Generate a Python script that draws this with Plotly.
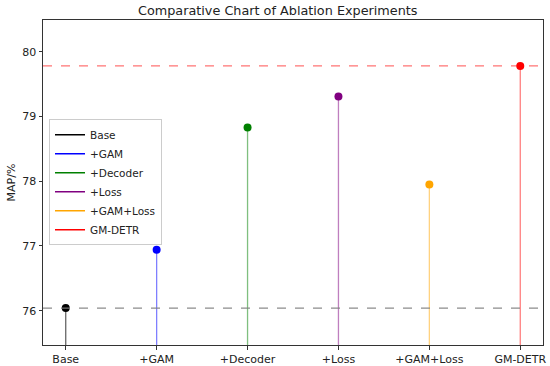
import plotly.graph_objects as go

categories = ["Base", "+GAM", "+Decoder", "+Loss", "+GAM+Loss", "GM-DETR"]
values = [76.04, 76.94, 78.83, 79.31, 77.95, 79.78]
colors = ["black", "blue", "green", "purple", "orange", "red"]
stem_colors = ["rgba(0,0,0,0.6)", "rgba(0,0,255,0.5)", "rgba(0,128,0,0.5)",
               "rgba(128,0,128,0.5)", "rgba(255,165,0,0.5)", "rgba(255,0,0,0.5)"]
base_line = 76.04
best_line = 79.78
y_range = [75.47, 80.49]

fig = go.Figure()
xs = list(range(len(categories)))
for i, (c, v) in enumerate(zip(categories, values)):
    fig.add_trace(go.Scatter(x=[i, i], y=[y_range[0] - 1, v], mode="lines",
                             line=dict(color=stem_colors[i], width=1.3),
                             showlegend=False, hoverinfo="skip"))
# dashed reference lines
fig.add_shape(type="line", xref="paper", yref="y", x0=0, x1=1, y0=base_line, y1=base_line,
              line=dict(color="rgba(128,128,128,0.9)", width=1.3, dash="dash"))
fig.add_shape(type="line", xref="paper", yref="y", x0=0, x1=1, y0=best_line, y1=best_line,
              line=dict(color="rgba(255,0,0,0.55)", width=1.3, dash="dash"))
for i, (c, v) in enumerate(zip(categories, values)):
    fig.add_trace(go.Scatter(x=[i], y=[v], mode="markers",
                             marker=dict(color=colors[i], size=8),
                             showlegend=False))
for i, c in enumerate(categories):
    fig.add_trace(go.Scatter(x=[None], y=[None], mode="lines", name=c,
                             line=dict(color=colors[i], width=1.5)))

axis_common = dict(showline=True, linecolor="#333", linewidth=1, mirror=True,
                   ticks="outside", ticklen=3.5, tickcolor="#333", showgrid=False,
                   zeroline=False, automargin=False,
                   tickfont=dict(family="DejaVu Sans", size=11, color="#222"))
fig.update_layout(
    width=550, height=366,
    margin=dict(l=43, r=7, t=20, b=21),
    paper_bgcolor="white", plot_bgcolor="white",
    title=dict(text="Comparative Chart of Ablation Experiments", x=0.505, xanchor="center",
               y=0.972, yanchor="middle",
               font=dict(family="DejaVu Sans", size=12.8, color="#222")),
    xaxis=dict(range=[-0.25, 5.25], tickmode="array", tickvals=xs, ticktext=categories,
               **axis_common),
    yaxis=dict(range=y_range, tickmode="array", tickvals=[76, 77, 78, 79, 80],
               title=dict(text="MAP/%", font=dict(family="DejaVu Sans", size=11, color="#222"),
                          standoff=4),
               **axis_common),
    legend=dict(x=0.012, y=0.695, xanchor="left", yanchor="top",
                bgcolor="rgba(255,255,255,0.8)", bordercolor="#ccc", borderwidth=1,
                font=dict(family="DejaVu Sans", size=10.5, color="#222"),
                itemwidth=30, tracegroupgap=0),
    showlegend=True,
)
fig.write_html("out.html", config={"displayModeBar": False},
               post_script="document.body.style.margin='0';")
